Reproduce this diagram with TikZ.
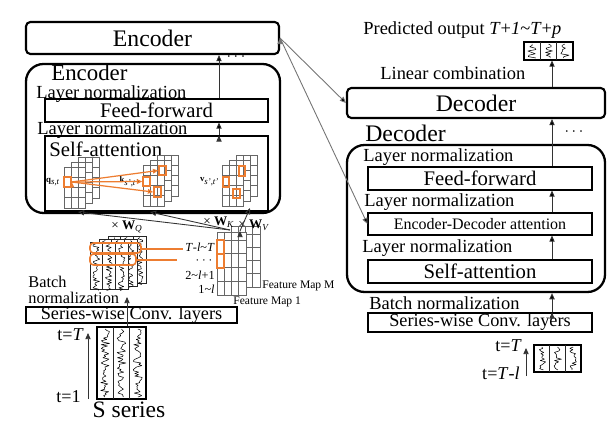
\documentclass[tikz,border=0pt]{standalone}
\usepackage{fontspec}
\setmainfont{Liberation Serif}
\usetikzlibrary{positioning,fit,arrows.meta}

\definecolor{attn}{RGB}{237,125,49}

\tikzset{
  roundbox/.style={draw, line width=1.2pt, rounded corners=2.5pt, inner sep=0pt},
  frame/.style={draw, line width=1.3pt, rounded corners=10pt, inner sep=0pt},
  layer/.style={draw, line width=0.6pt, inner sep=0pt},
  cell/.style={draw=black!60, line width=0.3pt},
  sheetline/.style={draw=black!85, line width=0.4pt},
  wig/.style={line width=0.3pt, line join=round},
  hl/.style={draw=attn, line width=0.9pt, inner sep=0pt},
  attnline/.style={draw=attn, line width=0.7pt},
  feed/.style={draw=black!80, line width=0.5pt},
  link/.style={draw=black!55, line width=0.5pt},
  title/.style={font=\fontsize{13.5}{15}\selectfont, inner sep=0pt},
  lbl/.style={font=\fontsize{10.5}{12}\selectfont, inner sep=0pt},
  boxtxt/.style={font=\fontsize{11.8}{13}\selectfont, inner sep=0pt},
  convtxt/.style={font=\fontsize{10.4}{12}\selectfont, inner sep=0pt},
  edatxt/.style={font=\fontsize{9.1}{11}\selectfont, inner sep=0pt},
  small/.style={font=\fontsize{7}{8}\selectfont, inner sep=0pt},
  mapname/.style={font=\fontsize{6.6}{8}\selectfont, inner sep=0pt},
  wlbl/.style={font=\fontsize{7.5}{9}\selectfont, inner sep=0pt},
  qkv/.style={font=\fontsize{5}{6}\selectfont, inner sep=0pt},
  tlbl/.style={font=\fontsize{10.3}{12}\selectfont, inner sep=0pt}
}

% wiggly series line: x, top, bottom, amplitude
\newcommand{\wiggle}[4]{%
  \pgfmathtruncatemacro{\nsteps}{max(5,(#3-#2)/1.3)}
  \draw[wig] ({#1},{#2}) \foreach \i in {1,...,\nsteps} {
    -- ({#1+#4*rand},{#2+(#3-#2)*\i/\nsteps}) };
}

% one sheet of series: x, y, width, height
\newcommand{\sheet}[4]{%
  \filldraw[sheetline, fill=white] ({#1},{#2}) rectangle ++({#3},{#4});
  \foreach \c in {1,2}
    \draw[sheetline] ({#1+#3*\c/3},{#2}) -- ++(0,{#4});
  \foreach \c in {0,1,2}
    \wiggle{#1+#3*(\c+0.5)/3}{#2+1.5}{#2+#4-1.5}{#3/11};
}

% stack of three q/k/v grids: x, y of front grid
\newcommand{\gridstack}[2]{%
  \foreach \k in {2,1,0} {
    \begin{scope}[shift={({#1+7*\k},{#2-5*\k})}]
      \filldraw[cell, fill=white] (0,0) rectangle (21,41);
      \foreach \c in {7,14} \draw[cell] (\c,0) -- (\c,41);
      \foreach \r in {10.25,20.5,30.75} \draw[cell] (0,\r) -- (21,\r);
    \end{scope}
  }
}

\begin{document}
\begin{tikzpicture}[x=0.02cm, y=-0.02cm, >={Triangle[length=3.5pt,width=3pt]}]
\pgfmathsetseed{11}
\useasboundingbox (0,0) rectangle (607,421);

% ---------------- encoder side ----------------
\node[roundbox, fit={(26,22) (279,54)}] (enc) {};
\node[title] (encT) at (enc) {Encoder};
\node[frame, fit={(26,64) (280,213)}] (encF) {};
\node[title, anchor=west, font=\fontsize{13}{14}\selectfont] (encL) at (51,72.5) {Encoder};
\node[lbl, anchor=west] (lnE1) at (36,94) {Layer normalization};
\node[layer, fit={(45,99) (268,122)}] (ffE) {};
\node[boxtxt] (ffET) at (ffE) {Feed-forward};
\node[lbl, anchor=west] (lnE2) at (37,130) {Layer normalization};
\node[layer, fit={(45,136) (268,211)}] (saE) {};
\node[boxtxt, anchor=west] (saEL) at (49,149) {Self-attention};
\node[font=\small] (dotsE) at (236,57) {$\cdots$};

\coordinate (ex) at (219,0);
\path[->, feed]
  (ffE.north -| ex) edge (enc.south -| ex)
  (saE.north -| ex) edge (ffE.south -| ex);

% q, k, v grids
\gridstack{64}{167}
\gridstack{143}{165}
\gridstack{222}{165}

\node[hl, fit={(64,177) (71,187)}] (q) {};
\node[hl, fit={(143,177) (150,186)}] (k1) {};
\node[hl, fit={(159,166) (166,175)}] (k2) {};
\node[hl, fit={(154,187) (161,197)}] (k3) {};
\node[hl, fit={(223,177) (229,187)}] (v1) {};
\node[hl, fit={(239,166) (245,176)}] (v2) {};
\node[hl, fit={(233,189) (240,198)}] (v3) {};

\node[qkv, left=1.5pt of q] (qL) {\textbf{q}\textsubscript{\textit{s,t}}};
\node[qkv, left=1.5pt of k1] (kL) {\textbf{k}\textsubscript{\textit{s',t'}}};
\node[qkv, left=1.5pt of v1] (vL) {\textbf{v}\textsubscript{\textit{s',t'}}};

\path[->, attnline, >={Triangle[length=3pt,width=2.6pt]}]
  (q.east) edge (k1.west) edge (k2.west) edge (k3.west);

% input series sheets
\sheet{108}{236}{38}{47}
\sheet{99}{239}{38}{47}
\sheet{90}{242}{38}{47}
\node[hl, rounded corners=2pt, fit={(90,243) (141,253)}] (inA) {};
\node[hl, rounded corners=2pt, fit={(90,254) (136,265)}] (inB) {};
\coordinate (endA) at (183,249);
\coordinate (endB) at (177,260);
\draw[attnline] (inA.east |- endA) -- (endA);
\draw[attnline] (inB.east |- endB) -- (endB);

% feature maps
\filldraw[cell, fill=white] (231,226) rectangle (260,287);
\foreach \c in {1,2,3} \draw[cell] ({231+7.25*\c},226) -- ++(0,61);
\foreach \r in {0,...,3} \draw[cell] (231,{234+13.25*\r}) -- ++(29,0);
\filldraw[cell, fill=white] (217,232) rectangle (246,295);
\foreach \c in {1,2,3} \draw[cell] ({217+7.25*\c},232) -- ++(0,63);
\foreach \r in {0,...,3} \draw[cell] (217,{240+13.75*\r}) -- ++(29,0);
\node[hl, fit={(217,240) (224,254)}] (fmA) {};
\node[hl, fit={(217,254) (224,268)}] (fmB) {};

\node[small, anchor=east] (rowA) at (215,247) {\textit{T}-\textit{l}\textasciitilde\textit{T}};
\node[small, anchor=east] (rowB) at (213,261) {$\cdots$};
\node[small, anchor=east] (rowC) at (215,275) {2\textasciitilde\textit{l}+1};
\node[small, anchor=east] (rowD) at (215,289) {1\textasciitilde\textit{l}};
\node[mapname, anchor=west] (mapM) at (262,286) {Feature Map M};
\node[mapname, anchor=west] (map1) at (233,302) {Feature Map 1};

\node[wlbl] (wq) at (127,227) {× \textbf{W}\textsubscript{\textit{Q}}};
\node[wlbl] (wk) at (219,222) {× \textbf{W}\textsubscript{\textit{K}}};
\node[wlbl] (wv) at (254,225) {× \textbf{W}\textsubscript{\textit{V}}};

\coordinate (fmq) at (230,230);
\coordinate (fmv) at (240,231);
\coordinate (qin) at (78,212);
\coordinate (kin) at (150,212);
\coordinate (vin) at (250,208);
\path[->, feed]
  (fmq) edge (qin)
  (fmq) edge (kin)
  (fmv) edge (vin);

% conv layers and raw series
\node[lbl, anchor=west, font=\fontsize{9.3}{11}\selectfont] (bnE1) at (28,282) {Batch};
\node[lbl, anchor=west, font=\fontsize{9.3}{11}\selectfont] (bnE2) at (28,298) {normalization};
\node[layer, fit={(26,307) (237,323)}] (cvE) {};
\node[convtxt] (cvET) at (cvE) {Series-wise Conv. layers};
\node[layer, fit={(97,327) (146,399)}] (ser) {};
\foreach \c in {0,1,2}
  \wiggle{97+49*(\c+0.5)/3}{329}{397}{4.5};
\draw[sheetline] (113.3,327) -- (113.3,399) (129.7,327) -- (129.7,399);

\coordinate (cx) at (127,297);
\draw[->, feed] (ser.north -| cx) -- (cx);

\coordinate (tlow) at (88,399);
\coordinate (thigh) at (88,333);
\draw[->, feed] (tlow) -- (thigh);
\node[tlbl, anchor=east] (tT) at (84,335) {t=\textit{T}};
\node[tlbl, anchor=east] (t1) at (81,397) {t=1};
\node[title, font=\fontsize{13.4}{15}\selectfont] (sser) at (129,410) {S series};

% ---------------- decoder side ----------------
\node[lbl, anchor=west] (pred) at (363,30)
  {Predicted output \textit{T}+\textit{1}\textasciitilde\textit{T}+\textit{p}};
\node[layer, fit={(524,42) (573,60)}] (out) {};
\foreach \c in {0,1,2}
  \wiggle{524+49*(\c+0.5)/3}{44}{58}{4.5};
\draw[sheetline] (540.3,42) -- (540.3,60) (556.7,42) -- (556.7,60);

\node[lbl, anchor=west] (lc) at (380,73) {Linear combination};
\node[roundbox, fit={(347,88) (605,118)}] (dec) {};
\node[title] (decT) at (dec) {Decoder};
\node[title, anchor=west] (decL) at (365,133) {Decoder};
\node[font=\small] (dotsD) at (574,132) {$\cdots$};
\node[frame, fit={(347,145) (605,292)}] (decF) {};
\node[lbl, anchor=west] (lnD1) at (363,157) {Layer normalization};
\node[layer, fit={(368,167) (592,190)}] (ffD) {};
\node[boxtxt] (ffDT) at (ffD) {Feed-forward};
\node[lbl, anchor=west] (lnD2) at (364,202) {Layer normalization};
\node[layer, fit={(368,213) (592,235)}] (eda) {};
\node[edatxt] (edaT) at (eda) {Encoder-Decoder attention};
\node[lbl, anchor=west] (lnD3) at (362,248) {Layer normalization};
\node[layer, fit={(368,260) (592,283)}] (saD) {};
\node[boxtxt] (saDT) at (saD) {Self-attention};
\node[lbl, anchor=west] (bnD) at (369,303) {Batch normalization};
\node[layer, fit={(368,313) (592,332)}] (cvD) {};
\node[convtxt] (cvDT) at (cvD) {Series-wise Conv. layers};

\node[layer, fit={(534,345) (581,372)}] (inD) {};
\foreach \c in {0,1,2}
  \wiggle{534+47*(\c+0.5)/3}{347}{370}{4};
\draw[sheetline] (549.7,345) -- (549.7,372) (565.3,345) -- (565.3,372);

\coordinate (dx) at (552,0);
\path[->, feed]
  (dec.north -| dx) edge (out.south -| dx)
  (ffD.north -| dx) edge (dec.south -| dx)
  (eda.north -| dx) edge (ffD.south -| dx)
  (saD.north -| dx) edge (eda.south -| dx)
  (cvD.north -| dx) edge (decF.south -| dx);

\coordinate (dlow) at (526,376);
\coordinate (dhigh) at (526,348);
\draw[->, feed] (dlow) -- (dhigh);
\node[tlbl, anchor=east] (dT) at (522,346) {t=\textit{T}};
\node[tlbl, anchor=east] (dTl) at (520,373) {t=\textit{T}-\textit{l}};

% encoder output to decoder
\path[->, link]
  (enc.east) edge (dec.west)
  (enc.east) edge (eda.west);

\end{tikzpicture}
\end{document}
